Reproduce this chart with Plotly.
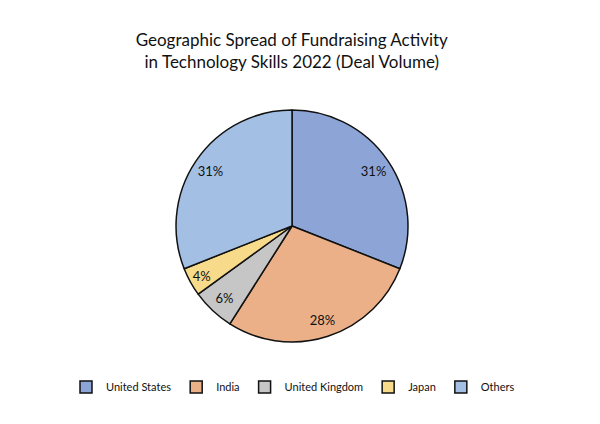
import plotly.graph_objects as go

labels = ["United States", "India", "United Kingdom", "Japan", "Others"]
values = [31, 28, 6, 4, 31]
colors = ["#8da5d6", "#ebb088", "#c6c6c6", "#f7da8a", "#a3bfe3"]

dom = dict(x=[0.28, 0.6667], y=[0.2123, 0.7594])

fig = go.Figure()
# filled pie with outlines (legend source)
fig.add_trace(go.Pie(
    labels=labels, values=values, sort=False, direction="clockwise", rotation=0,
    marker=dict(colors=colors, line=dict(color="#111111", width=1.5)),
    textinfo="none", domain=dom, hoverinfo="label+percent",
))
# transparent ring carrying the percentage labels near the rim
fig.add_trace(go.Pie(
    labels=labels, values=values, sort=False, direction="clockwise", rotation=0,
    hole=0.7, showlegend=False,
    marker=dict(colors=["rgba(0,0,0,0)"] * len(values), line=dict(width=0)),
    texttemplate="%{percent:.0%}", textposition="inside",
    insidetextorientation="horizontal",
    textfont=dict(family="Lato, sans-serif", size=13, color="#111111"),
    domain=dom, hoverinfo="skip",
))

fig.update_layout(
    width=600, height=424,
    paper_bgcolor="white", plot_bgcolor="white",
    margin=dict(l=0, r=0, t=0, b=0),
    title=dict(
        text="Geographic Spread of Fundraising Activity<br>in Technology Skills 2022 (Deal Volume)",
        x=0.473, xanchor="center", y=0.91, yanchor="middle",
        font=dict(family="Lato, sans-serif", size=17, color="#111111"),
    ),
    legend=dict(
        orientation="h", x=0.475, xanchor="center", y=0.106, yanchor="middle",
        font=dict(family="Lato, sans-serif", size=11, color="#111111"),
        itemwidth=30,
    ),
)

fig.write_html("out.html")
